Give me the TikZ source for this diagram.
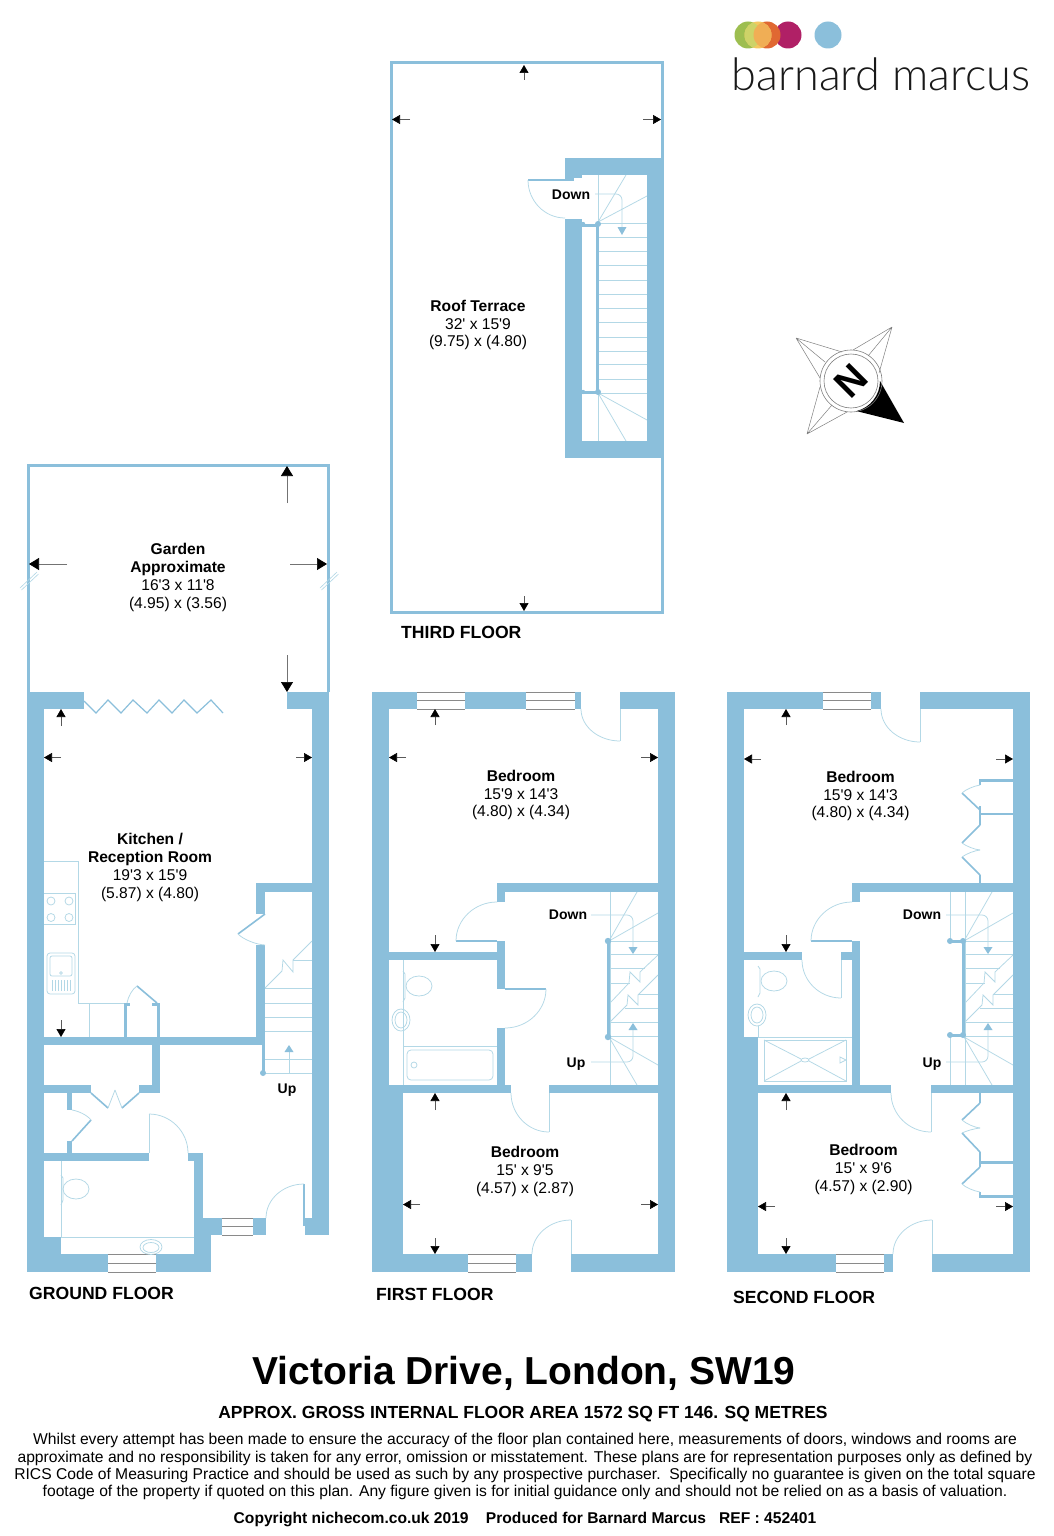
\documentclass[tikz,border=0pt]{standalone}
\usepackage{fontspec}
\setmainfont{Liberation Sans}
\newfontfamily\logofont{Lato Light}
\usetikzlibrary{calc,arrows.meta}
\definecolor{wallc}{HTML}{8BBFDB}
\definecolor{thinc}{HTML}{B3D8E6}
\definecolor{wingray}{HTML}{8A8A8A}
\tikzset{
  thinl/.style={draw=thinc,line width=0.75pt},
  midl/.style={draw=wallc,line width=1.6pt},
  barl/.style={draw=wallc,line width=3pt},
  dimarr/.style={draw=black!65,line width=0.6pt,-{Triangle[length=8pt,width=9pt,color=black]}},
  bigarr/.style={draw=black!55,line width=0.7pt,-{Triangle[length=10pt,width=12pt,color=black]}},
  room/.style={align=center,inner sep=0pt,font=\fontsize{15.6}{17.8}\selectfont},
  floorlab/.style={inner sep=0pt,font=\bfseries\fontsize{17.6}{20}\selectfont},
  stairlab/.style={inner sep=0pt,font=\bfseries\fontsize{14}{16}\selectfont},
  bodyl/.style={inner sep=0pt,font=\fontsize{15.65}{17.4}\selectfont},
}
\newcommand\ap{\textquotesingle}
% wall rectangle x1 y1 x2 y2
\newcommand\wl[4]{\fill[wallc] (#1,#2) rectangle (#3,#4);}
% window x1 y1 x2 y2 horizontal
\newcommand\winh[4]{\fill[white] (#1,#2) rectangle (#3,#4);
  \draw[wingray,line width=1pt] (#1,#2) -- (#3,#2) (#1,{(#2+#4)/2}) -- (#3,{(#2+#4)/2}) (#1,#4) -- (#3,#4);}
% door arc: start, tangent corner, end
\newcommand\swing[3]{\draw[thinl] (#1) .. controls ($(#1)!.55!(#2)$) and ($(#3)!.55!(#2)$) .. (#3);}
\newcommand\stairtri[4]{\fill[wallc] (#1,#2) -- (#3,#4) -- ({2*#1-#3},#4) -- cycle;}
\begin{document}
\begin{tikzpicture}[x=1pt,y=-1pt]
\useasboundingbox (0,0) rectangle (1053,1536);
\fill[white] (0,0) rectangle (1053,1536);

% ---------- LOGO ----------
\fill[wallc] (828,35) circle (13.5);
\fill[fill={rgb,255:red,176;green,32;blue,102}] (788,35) circle (13.5);
\fill[fill={rgb,255:red,224;green,104;blue,50}] (767,35) circle (13.5);
\fill[fill={rgb,255:red,157;green,190;blue,80}] (748,35) circle (13.5);
\fill[fill={rgb,255:red,244;green,200;blue,96}] (758,35) circle (13.5);
\begin{scope}
\clip (758,35) circle (13.5);
\fill[fill={rgb,255:red,205;green,211;blue,104}] (748,35) circle (13.5);
\end{scope}
\begin{scope}
\clip (758,35) circle (13.5);
\fill[fill={rgb,255:red,240;green,174;blue,85}] (767,35) circle (13.5);
\end{scope}
\node[anchor=base,inner sep=0pt,font=\logofont\fontsize{45}{50}\selectfont,text=black!90] (logotext) at (881,91) {barnard marcus};

% ---------- COMPASS ----------
\coordinate (cc) at (851,381);
\draw[black!50,line width=.5pt] (796,338) -- (842,352) (796,338) -- (825,362) (796,338) -- (820,378)
  (892,327) -- (853,350) (892,327) -- (868,356) (892,327) -- (879,373)
  (807,434) -- (820,387) (807,434) -- (832,405) (807,434) -- (847,412);
\fill[black] (904,423) -- (880,381) arc[start angle=0,end angle=76,radius=31] -- cycle;
\draw[black!50,line width=.6pt] (cc) circle (31) (cc) circle (27);
\node[rotate=-135,inner sep=0pt,font=\bfseries\fontsize{39}{39}\selectfont] (north) at (851,381) {N};

% ---------- THIRD FLOOR ----------
\draw[wallc,line width=3pt] (391,63) rectangle (662,612);
\wl{565}{158}{663}{175}
\wl{647}{158}{663}{458}
\wl{565}{441}{663}{458}
\wl{565}{219}{582}{458}
\wl{565}{175}{574}{180}
\wl{574}{175}{582}{178}
\draw[midl] (528,180) -- (574,180);
\swing{528,180}{528,218}{565,218}
\draw[thinl] (598,175) -- (598,441);
\foreach \y in {223,237,251,265,280,294,308,322,337,351,364,379,393} {\draw[thinl] (598,\y) -- (647,\y);}
\draw[thinl] (598,222) -- (626,175) (598,222) -- (647,196) (598,393) -- (647,420) (598,393) -- (626,441);
\draw[barl] (597,224) -- (597,392);
\draw[barl] (582,225) -- (597,225) (582,392) -- (597,392);
\fill[wallc] (598,224) circle (3) (598,392) circle (3) (583,224) circle (2.2) (583,392) circle (2.2);
\draw[thinl,rounded corners=6pt] (595,194) -- (622,194) -- (622,228);
\stairtri{622}{235}{626.5}{227}
\node[stairlab] (down3) at (571,195) {Down};
\draw[dimarr] (524,80) -- (524,65);
\draw[dimarr] (524,596) -- (524,611);
\draw[dimarr] (410,119.5) -- (392,119.5);
\draw[dimarr] (643,119.5) -- (661,119.5);
\node[room] (roof) at (478,325) {\textbf{Roof Terrace}\\32\ap\ x 15\ap9\\(9.75) x (4.80)};
\node[floorlab,anchor=base west] (third) at (401,638) {THIRD FLOOR};

% ---------- GARDEN ----------
\draw[wallc,line width=3pt] (28,692) -- (28,465) -- (328,465) -- (328,692);
\draw[bigarr] (287,503) -- (287,466);
\draw[bigarr] (287,655) -- (287,692);
\draw[bigarr] (67,564) -- (29,564);
\draw[bigarr] (290,564) -- (327,564);
\draw[thinc,line width=.6pt] (20,588) -- (37,572) (21.5,590) -- (38.5,574) (320,588) -- (337,572) (321.5,590) -- (338.5,574);
\node[room] (garden) at (178,577.5) {\textbf{Garden}\\\textbf{Approximate}\\16\ap3 x 11\ap8\\(4.95) x (3.56)};

% ---------- GROUND FLOOR ----------
\wl{27}{692}{44}{1272}
\wl{27}{692}{84}{709}
\wl{287}{692}{329}{709}
\wl{312}{692}{329}{1235}
\wl{256}{883}{312}{892}
\wl{256}{883}{265}{914}
\wl{256}{945}{265}{1045}
\wl{44}{1037}{265}{1045}
\wl{124}{1003}{127}{1037}
\wl{124}{1003}{130}{1006}
\wl{157}{1003}{160}{1037}
\wl{152}{1003}{160}{1006}
\wl{152}{1045}{160}{1093}
\wl{44}{1085}{91}{1093}
\wl{139}{1085}{160}{1093}
\wl{67}{1093}{72}{1110}
\wl{67}{1141}{72}{1153}
\wl{44}{1153}{149}{1161}
\wl{188}{1153}{203}{1161}
\wl{194}{1153}{203}{1218}
\wl{194}{1218}{266}{1235}
\wl{194}{1218}{211}{1272}
\wl{27}{1254}{211}{1272}
\wl{27}{1237}{61}{1272}
\wl{305}{1218}{329}{1235}
\winh{222}{1218}{253}{1235}
\winh{108}{1254}{156}{1272}
% doors
\draw[midl] (304,1184) -- (304,1226);
\swing{304,1184}{266,1184}{266,1218}
\draw[thinl] (149,1114) -- (149,1153);
\swing{149,1114}{188,1114}{188,1153}
\draw[midl] (91,1093) -- (108,1108) (139,1093) -- (122,1108) (72,1141) -- (91,1120);
\swing{108,1108}{112,1098}{115,1090}
\swing{122,1108}{118,1098}{115,1090}
\swing{91,1120}{85,1112}{72,1110}
\draw[midl] (265,914) -- (238,934);
\swing{238,934}{248,944}{265,945}
\draw[midl] (157,1003) -- (137,986);
\swing{137,986}{129,991}{127,1003}
\draw[wallc,line width=1.2pt] (84,701) -- (96,713) -- (108,700) -- (121,713) -- (133,700) -- (147,713) -- (159,700) -- (172,713) -- (184,700) -- (197,713) -- (211,700) -- (223,713);
% kitchen
\draw[thinl] (44,861) -- (78,861) -- (78,1003) -- (124,1003) (89,1003) -- (89,1037);
\draw[thinl] (44,893) -- (75,893) -- (75,924) -- (44,924);
\foreach \cx in {51,69} \foreach \cy in {901,917.5} {\draw[thinl] (\cx,\cy) circle (4);}
\draw[thinl,rounded corners=3pt] (47,953) rectangle (75,994);
\draw[thinl,rounded corners=2pt] (50,956) rectangle (72,976);
\draw[thinl] (61,973) circle (1.4);
\foreach \x in {52,55,58,61,64,67,70} {\draw[thinl] (\x,980) -- (\x,991);}
% wc
\draw[thinl] (61,1161) -- (61,1237) -- (194,1237);
\draw[thinl] (76,1189) ellipse (13 and 10);
\draw[thinl] (61,1175) -- (63,1178) -- (63,1200) -- (61,1205);
\draw[thinl] (151,1247) ellipse (11 and 7.5);
\draw[thinl] (151,1247.5) ellipse (8 and 5);
% stairs
\foreach \y in {988,1003,1017,1031,1059,1073} {\draw[thinl] (265,\y) -- (312,\y);}
\draw[thinl] (293,960) -- (312,960);
\draw[thinl] (265,988) -- (282,971) -- (283,960) -- (293,972) -- (293,960) -- (312,941);
\draw[thinl] (289,1073) -- (289,1052);
\stairtri{289}{1045}{293.5}{1052}
\wl{262}{1045}{265}{1073}
\fill[wallc] (263,1073) circle (3);
\node[stairlab] (upg) at (287,1090) {Up};
\draw[dimarr] (61,726) -- (61,709);
\draw[dimarr] (61,1020) -- (61,1037);
\draw[dimarr] (61,757.5) -- (44,757.5);
\draw[dimarr] (296,757.5) -- (312,757.5);
\node[room] (kitchen) at (150,867.5) {\textbf{Kitchen /}\\\textbf{Reception Room}\\19\ap3 x 15\ap9\\(5.87) x (4.80)};
\node[floorlab,anchor=base west] (ground) at (29,1299) {GROUND FLOOR};

% ---------- FIRST FLOOR ----------
\wl{372}{692}{581}{709}
\wl{620}{692}{675}{709}
\wl{372}{692}{389}{1272}
\wl{658}{692}{675}{1272}
\wl{372}{1085}{403}{1272}
\wl{372}{1254}{532}{1272}
\wl{571}{1254}{675}{1272}
\wl{389}{1085}{511}{1093}
\wl{549}{1085}{658}{1093}
\wl{497}{883}{658}{892}
\wl{497}{883}{505}{902}
\wl{497}{941}{505}{989}
\wl{497}{1028}{505}{1085}
\wl{389}{952}{505}{960}
\winh{417}{692}{465}{709}
\winh{526}{692}{575}{709}
\winh{468}{1254}{516}{1272}
\draw[thinl] (620,709) -- (620,741);
\swing{620,741}{581,741}{581,709}
\draw[thinl] (571,1220) -- (571,1254);
\swing{571,1220}{532,1220}{532,1254}
\draw[thinl] (549,1093) -- (549,1132);
\swing{549,1132}{511,1132}{511,1093}
\draw[midl] (456,941) -- (497,941);
\swing{456,941}{456,902}{497,902}
\draw[midl] (505,989) -- (546,989);
\swing{546,989}{546,1028}{505,1028}
% bathroom
\draw[thinl] (403,960) -- (403,1085) (403,1046) -- (497,1046);
\draw[thinl,rounded corners=4pt] (407,1050) rectangle (493,1080);
\draw[thinl] (414,1065) circle (3);
\draw[thinl] (419,986) ellipse (13 and 10);
\draw[thinl] (403,971) -- (405,974) -- (405,998) -- (403,1002);
\draw[thinl] (401,1020) ellipse (9 and 11);
\draw[thinl] (401,1020) ellipse (6 and 8);
% stairs (first floor coordinates, re-used for second)
\newcommand\flights{%
 \draw[thinl] (610,892) -- (610,1085);
 \foreach \y in {941,954} {\draw[thinl] (610,\y) -- (658,\y);}
 \draw[thinl] (610,968) -- (645,968) (610,983) -- (630,983);
 \draw[thinl] (639,994) -- (658,994) (625,1008) -- (658,1008) (611,1022) -- (658,1022) (610,1036) -- (658,1036);
 \draw[thinl] (610,1003) -- (629,983) -- (630,972) -- (640,982) -- (640,972) -- (658,955);
 \draw[thinl] (610,1022) -- (627,1005) -- (628,995) -- (638,1005) -- (638,995) -- (658,975);
 \draw[thinl] (609,941) -- (637,892) (609,941) -- (658,913) (609,1037) -- (658,1065) (609,1037) -- (637,1085);
 \draw[thinl,rounded corners=6pt] (591,915) -- (633,915) -- (633,947);
 \stairtri{633}{954}{637.5}{947}
 \draw[thinl,rounded corners=6pt] (591,1062) -- (633,1062) -- (633,1030);
 \stairtri{633}{1023}{637.5}{1030}
}
\flights
\draw[barl] (608,941) -- (608,1037);
\fill[wallc] (608,941) circle (3.2) (608,1037) circle (3.2);
\node[stairlab] (down1) at (568,915) {Down};
\node[stairlab] (up1) at (576,1064) {Up};
\draw[dimarr] (435,725) -- (435,709);
\draw[dimarr] (406,757.5) -- (389,757.5);
\draw[dimarr] (641,757.5) -- (658,757.5);
\draw[dimarr] (435,935) -- (435,952);
\draw[dimarr] (435,1110) -- (435,1093);
\draw[dimarr] (420,1204.5) -- (403,1204.5);
\draw[dimarr] (641,1204.5) -- (658,1204.5);
\draw[dimarr] (435,1238) -- (435,1254);
\node[room] (bed1a) at (521,795) {\textbf{Bedroom}\\15\ap9 x 14\ap3\\(4.80) x (4.34)};
\node[room] (bed1b) at (525,1171.5) {\textbf{Bedroom}\\15\ap\ x 9\ap5\\(4.57) x (2.87)};
\node[floorlab,anchor=base west] (first) at (376,1300) {FIRST FLOOR};

% ---------- SECOND FLOOR ----------
\wl{727}{692}{881}{709}
\wl{920}{692}{1030}{709}
\wl{727}{692}{744}{1272}
\wl{1013}{692}{1030}{1272}
\wl{727}{1037}{758}{1272}
\wl{727}{1254}{893}{1272}
\wl{932}{1254}{1030}{1272}
\wl{758}{1085}{891}{1093}
\wl{931}{1085}{1013}{1093}
\wl{852}{883}{1013}{892}
\wl{852}{883}{860}{902}
\wl{852}{941}{860}{1085}
\wl{744}{952}{802}{960}
\wl{841}{952}{860}{960}
\winh{823}{692}{871}{709}
\winh{836}{1254}{884}{1272}
\draw[thinl] (920,709) -- (920,742);
\swing{920,742}{881,742}{881,709}
\draw[thinl] (932,1220) -- (932,1254);
\swing{932,1220}{893,1220}{893,1254}
\draw[thinl] (931,1093) -- (931,1132);
\swing{931,1132}{891,1132}{891,1093}
\draw[midl] (811,941) -- (852,941);
\swing{811,941}{811,902}{852,902}
\draw[thinl] (841,960) -- (841,998);
\swing{841,998}{802,998}{802,960}
% wardrobes upper
\wl{979}{779}{1013}{782}
\wl{979}{779}{981}{785}
\wl{979}{813}{1013}{815}
\wl{979}{806}{981}{825}
\wl{979}{875}{981}{883}
\draw[midl] (980,810) -- (962,793) (980,825) -- (962,843) (962,857) -- (980,875);
\swing{962,793}{968,787}{980,785}
\swing{962,843}{970,849}{980,850}
\swing{962,857}{970,851}{980,850}
% wardrobes lower
\wl{979}{1093}{981}{1103}
\wl{979}{1152}{981}{1167}
\wl{979}{1161}{1013}{1164}
\wl{979}{1192}{981}{1198}
\wl{979}{1195}{1013}{1198}
\draw[midl] (980,1103) -- (962,1120) (962,1133) -- (980,1152) (980,1167) -- (962,1184);
\swing{962,1120}{970,1127}{980,1128}
\swing{962,1133}{970,1129}{980,1128}
\swing{962,1184}{968,1190}{980,1192}
% bathroom
\draw[thinl] (758,1037) -- (852,1037);
\draw[thinl] (764,1040) rectangle (846,1081);
\draw[thinl] (764,1040) -- (801,1059) (846,1040) -- (809,1059) (764,1081) -- (801,1061) (846,1081) -- (809,1061);
\draw[thinl] (805,1060) ellipse (4 and 2);
\draw[thinl] (840,1057) -- (846,1060) -- (840,1063) -- cycle;
\draw[thinl] (774,981) ellipse (13 and 10);
\draw[thinl] (758,966) -- (760,969) -- (760,993) -- (758,997);
\draw[thinl] (757,1015) ellipse (9 and 11);
\draw[thinl] (757,1015) ellipse (6 and 8);
\draw[thinl] (758,1026) -- (758,1037);
% stairs
\begin{scope}[xshift=355pt]
\flights
\end{scope}
\draw[thinl] (950,892) -- (950,941) (950,1035) -- (950,1085);
\draw[barl] (963,941) -- (963,1035) (950,941) -- (963,941) (950,1035) -- (963,1035);
\fill[wallc] (963,941) circle (3) (963,1035) circle (3) (950,941) circle (3) (950,1035) circle (3);
\node[stairlab] (down2) at (922,915) {Down};
\node[stairlab] (up2) at (932,1064) {Up};
\draw[dimarr] (786,725) -- (786,709);
\draw[dimarr] (761,759) -- (744,759);
\draw[dimarr] (996,759) -- (1013,759);
\draw[dimarr] (786,935) -- (786,952);
\draw[dimarr] (786,1110) -- (786,1093);
\draw[dimarr] (775,1206.5) -- (758,1206.5);
\draw[dimarr] (996,1206.5) -- (1013,1206.5);
\draw[dimarr] (786,1238) -- (786,1254);
\node[room] (bed2a) at (860.5,796) {\textbf{Bedroom}\\15\ap9 x 14\ap3\\(4.80) x (4.34)};
\node[room] (bed2b) at (863.5,1169.5) {\textbf{Bedroom}\\15\ap\ x 9\ap6\\(4.57) x (2.90)};
\node[floorlab,anchor=base west] (second) at (733,1303) {SECOND FLOOR};

% ---------- TEXT BLOCK ----------
\node[inner sep=0pt,font=\bfseries\fontsize{39}{42}\selectfont] (title) at (524,1373) {Victoria Drive, London, SW19};
\node[inner sep=0pt,font=\bfseries\fontsize{17.5}{20}\selectfont] (area) at (523,1414) {APPROX. GROSS INTERNAL FLOOR AREA 1572 SQ FT 146. SQ METRES};
\node[bodyl] (l1) at (525,1440) {Whilst every attempt has been made to ensure the accuracy of the floor plan contained here, measurements of doors, windows and rooms are};
\node[bodyl] (l2) at (525,1458) {approximate and no responsibility is taken for any error, omission or misstatement. These plans are for representation purposes only as defined by};
\node[bodyl] (l3) at (525,1475) {RICS Code of Measuring Practice and should be used as such by any prospective purchaser.\ \ Specifically no guarantee is given on the total square};
\node[bodyl] (l4) at (525,1492) {footage of the property if quoted on this plan. Any figure given is for initial guidance only and should not be relied on as a basis of valuation.};
\node[inner sep=0pt,font=\bfseries\fontsize{15.6}{18}\selectfont] (copy) at (525,1519) {Copyright nichecom.co.uk 2019\ \ \ \ Produced for Barnard Marcus\ \ \ REF : 452401};
\end{tikzpicture}
\end{document}
